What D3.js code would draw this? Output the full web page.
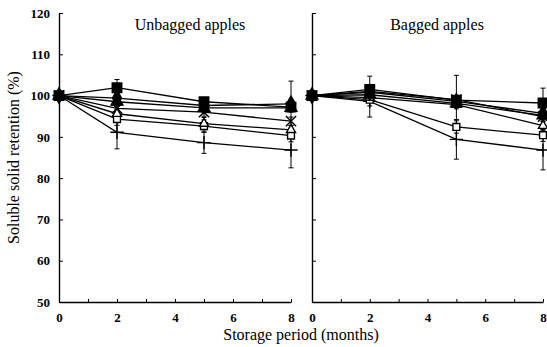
<!DOCTYPE html>
<html>
<head>
<meta charset="utf-8">
<script src="https://cdn.jsdelivr.net/npm/d3@7"></script>
<style>
  body { margin: 0; background: #fff; }
  svg { display: block; font-family: "Liberation Serif", "Times New Roman", serif; }
  .tick text { font-family: "Liberation Serif", serif; font-size: 13px; font-weight: bold; }
</style>
</head>
<body>
<svg id="chart" width="547" height="347"></svg>
<script>
// months on the x axis
const MONTHS = [0, 2, 5, 8];
const X_TICK_LABELS = [0, 2, 4, 6, 8];
const Y_TICK_LABELS = [50, 60, 70, 80, 90, 100, 110, 120];
const PANELS = ['Unbagged apples', 'Bagged apples'];
const MARKERS = ['sqFill', 'diaFill', 'triFill', 'times', 'triOpen', 'sqOpen', 'plus'];

// soluble solid retention (%), one row per treatment
const UNBAGGED = [
  [100, 101.9, 98.5, 97.2],
  [100, 99.4, 97.6, 98.0],
  [100, 98.5, 97.0, 97.0],
  [100, 96.9, 96.0, 93.8],
  [100, 95.6, 93.2, 91.7],
  [100, 94.3, 92.6, 90.3],
  [100, 91.1, 88.6, 86.8]
];
const UNBAGGED_SD = [
  [0, 2.0, 1.0, 6.3],
  [0, 1.0, 1.0, 1.0],
  [0, 1.0, 1.0, 1.0],
  [0, 1.0, 1.0, 1.0],
  [0, 1.0, 1.5, 1.0],
  [0, 1.5, 1.5, 1.5],
  [0, 4.0, 2.6, 4.3]
];
const BAGGED = [
  [100, 101.5, 98.9, 98.2],
  [100, 100.8, 98.6, 95.7],
  [100, 100.2, 98.1, 95.2],
  [100, 101.0, 99.0, 94.9],
  [100, 99.5, 97.8, 92.7],
  [100, 99.0, 92.4, 90.4],
  [100, 98.6, 89.4, 86.8]
];
const BAGGED_SD = [
  [0, 3.2, 6.0, 3.6],
  [0, 1.0, 1.0, 1.0],
  [0, 1.0, 1.0, 1.0],
  [0, 1.0, 1.0, 1.0],
  [0, 1.0, 1.0, 1.0],
  [0, 1.5, 1.5, 1.5],
  [0, 3.8, 4.8, 4.8]
];

const svg = d3.select('#chart');
const plotTop = 13, plotBottom = 302;
const panelX = [[59, 291], [312, 543]];

const y = d3.scaleLinear().domain([50, 120]).range([plotBottom, plotTop]);

const symbolFor = {
  sqFill:  { type: d3.symbolSquare, size: 90, fill: true },
  diaFill: { type: d3.symbolDiamond, size: 70, fill: true },
  triFill: { type: d3.symbolTriangle, size: 60, fill: true },
  times:   { type: d3.symbolTimes, size: 70, fill: false },
  triOpen: { type: d3.symbolTriangle2, size: 60, fill: false },
  sqOpen:  { type: d3.symbolSquare2, size: 60, fill: false },
  plus:    { type: d3.symbolPlus, size: 60, fill: false }
};

function drawPanel(i, data, sd) {
  const x = d3.scaleLinear().domain([0, 8]).range(panelX[i]);
  const g = svg.append('g');

  // axes
  const yAxis = d3.axisLeft(y).tickValues(Y_TICK_LABELS).tickSizeInner(-4).tickSizeOuter(0);
  if (i === 1) yAxis.tickFormat('');
  g.append('g').attr('transform', `translate(${panelX[i][0]},0)`).call(yAxis)
    .attr('font-family', null)
    .call(a => a.selectAll('text').attr('x', -9));

  const xAxis = d3.axisBottom(x).tickValues(d3.range(0, 9)).tickSizeInner(-3).tickSizeOuter(0)
    .tickFormat(d => X_TICK_LABELS.includes(d) ? d : '');
  g.append('g').attr('transform', `translate(0,${plotBottom})`).call(xAxis)
    .attr('font-family', null)
    .call(a => a.selectAll('text').attr('y', 11));

  g.selectAll('.domain').attr('stroke', '#000').attr('stroke-width', 1.4);
  g.selectAll('.tick line').attr('stroke', '#000');

  g.append('text')
    .attr('x', i === 0 ? 190 : 437).attr('y', 30)
    .attr('text-anchor', 'middle').attr('font-size', 16)
    .text(PANELS[i]);

  const line = d3.line().x((d, k) => x(MONTHS[k])).y(d => y(d));

  data.forEach((row, s) => {
    g.append('path').datum(row)
      .attr('d', line).attr('fill', 'none')
      .attr('stroke', '#000').attr('stroke-width', 1.3);

    // error bars
    row.forEach((v, k) => {
      const e = sd[s][k];
      if (!e) return;
      const cx = x(MONTHS[k]);
      g.append('line').attr('x1', cx).attr('x2', cx)
        .attr('y1', y(v - e)).attr('y2', y(v + e))
        .attr('stroke', '#000').attr('stroke-width', 1);
      [v - e, v + e].forEach(w => g.append('line')
        .attr('x1', cx - 2.5).attr('x2', cx + 2.5)
        .attr('y1', y(w)).attr('y2', y(w))
        .attr('stroke', '#000').attr('stroke-width', 1));
    });
  });

  // markers on top, first series last so the filled square sits on top
  data.slice().reverse().forEach((row, r) => {
    const m = symbolFor[MARKERS[data.length - 1 - r]];
    const hollow = m.type === d3.symbolSquare2 || m.type === d3.symbolTriangle2;
    g.selectAll(null).data(row).enter().append('path')
      .attr('transform', (d, k) => `translate(${x(MONTHS[k])},${y(d)})`)
      .attr('d', d3.symbol(m.type, m.size))
      .attr('fill', m.fill ? '#000' : (hollow ? '#fff' : 'none'))
      .attr('stroke', '#000').attr('stroke-width', 1.4);
  });
}

drawPanel(0, UNBAGGED, UNBAGGED_SD);
drawPanel(1, BAGGED, BAGGED_SD);

svg.append('text')
  .attr('transform', `translate(19,${(plotTop + plotBottom) / 2}) rotate(-90)`)
  .attr('text-anchor', 'middle').attr('font-size', 16)
  .text('Soluble solid retention (%)');

svg.append('text')
  .attr('x', 301).attr('y', 340)
  .attr('text-anchor', 'middle').attr('font-size', 16)
  .text('Storage period (months)');
</script>
</body>
</html>
